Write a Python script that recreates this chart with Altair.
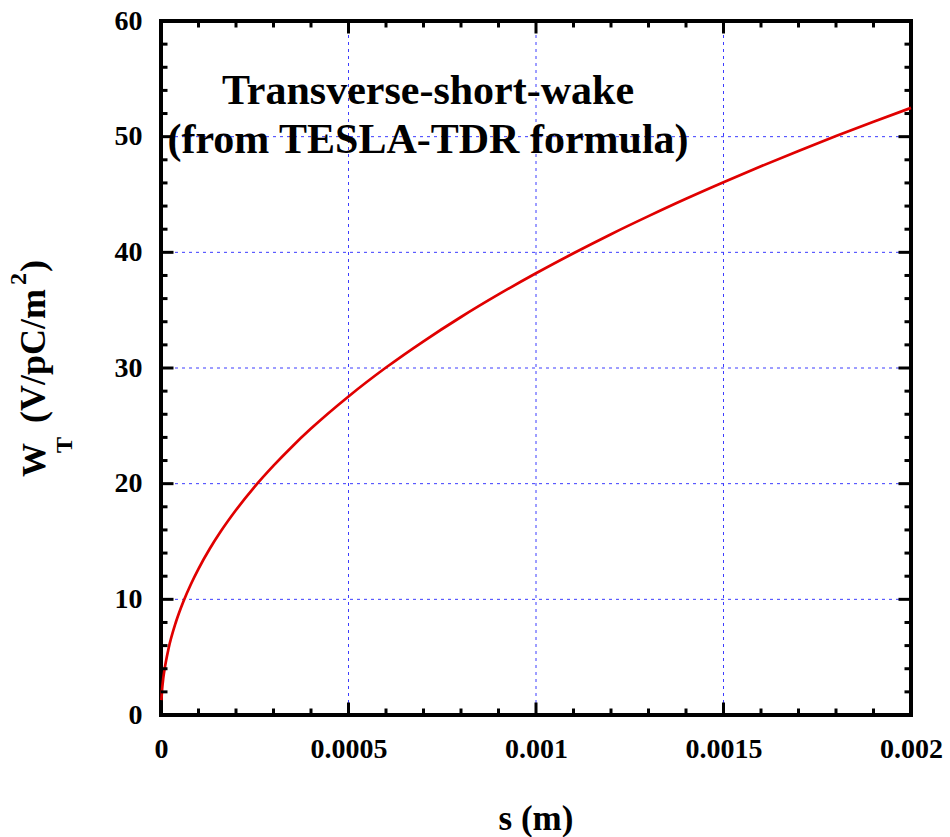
import altair as alt
import pandas as pd

# ---- data ----
s_m = [0.000001, 0.000003, 0.000006, 0.00001, 0.00002, 0.00004, 0.00006, 0.00008,
       0.0001, 0.00013, 0.00016, 0.0002, 0.00025, 0.0003, 0.00035, 0.0004,
       0.0005, 0.0006, 0.0007, 0.0008, 0.0009, 0.001, 0.0011, 0.0012, 0.0013,
       0.0014, 0.0015, 0.0016, 0.0017, 0.0018, 0.0019, 0.002]
w_t = [1.29, 2.23, 3.16, 4.05, 5.72, 8.06, 9.84, 11.33,
       12.64, 14.37, 15.90, 17.72, 19.75, 21.56, 23.22, 24.76,
       27.54, 30.04, 32.31, 34.41, 36.36, 38.19, 39.92, 41.57, 43.13,
       44.63, 46.06, 47.44, 48.77, 50.05, 51.29, 52.49]

x_major = [0, 0.0005, 0.001, 0.0015, 0.002]
x_minor = [0.0001, 0.0002, 0.0003, 0.0004, 0.0006, 0.0007, 0.0008, 0.0009,
           0.0011, 0.0012, 0.0013, 0.0014, 0.0016, 0.0017, 0.0018, 0.0019]
x_grid = [0.0005, 0.001, 0.0015]
y_major = [0, 10, 20, 30, 40, 50, 60]
y_minor = [2, 4, 6, 8, 12, 14, 16, 18, 22, 24, 26, 28, 32, 34, 36, 38,
           42, 44, 46, 48, 52, 54, 56, 58]
y_grid = [10, 20, 30, 40, 50]

title_lines = ["Transverse-short-wake", "(from TESLA-TDR formula)"]
x_title = "s (m)"

# ---- layout ----
W, H = 750, 694
FONT = "Liberation Serif"
MAJ, MIN = 12.5, 6.5

xs = alt.Scale(domain=[0, 0.002], nice=False, zero=False)
ys = alt.Scale(domain=[0, 60], nice=False, zero=False)

curve_df = pd.DataFrame({"s": s_m, "w": w_t})

def vals(v):
    return pd.DataFrame({"v": v})

x_axis = alt.Axis(values=x_major, format="~g", labelFlush=False, labelOverlap=False,
                  domain=False, ticks=False, grid=False, title=None,
                  labelPadding=42, labelBaseline="alphabetic", labelFontSize=28,
                  labelFont=FONT, labelFontWeight="bold", labelColor="black")
y_axis = alt.Axis(values=y_major, format="d", labelFlush=False, labelOverlap=False,
                  domain=False, ticks=False, grid=False, title=None,
                  labelPadding=19, labelBaseline="middle", labelFontSize=28,
                  labelFont=FONT, labelFontWeight="bold", labelColor="black")

def X(f):
    return alt.X(f, scale=xs, axis=x_axis)

def Y(f):
    return alt.Y(f, scale=ys, axis=y_axis)

grid_style = dict(color="#3c3cff", strokeWidth=1, strokeDash=[3, 4])

gx = alt.Chart(vals(x_grid)).mark_rule(**grid_style).encode(
    x=X("v:Q"), y=alt.value(0), y2=alt.value(H))
gy = alt.Chart(vals(y_grid)).mark_rule(**grid_style).encode(
    y=Y("v:Q"), x=alt.value(0), x2=alt.value(W))

curve = alt.Chart(curve_df).mark_line(color="#e00000", strokeWidth=2.7,
                                      interpolate="monotone").encode(
    x=X("s:Q"), y=Y("w:Q"))

tick_style = dict(color="black", strokeWidth=3)

def xticks(v, L):
    b = alt.Chart(vals(v)).mark_rule(**tick_style).encode(
        x=X("v:Q"), y=alt.value(H), y2=alt.value(H - L))
    t = alt.Chart(vals(v)).mark_rule(**tick_style).encode(
        x=X("v:Q"), y=alt.value(0), y2=alt.value(L))
    return [b, t]

def yticks(v, L):
    l = alt.Chart(vals(v)).mark_rule(**tick_style).encode(
        y=Y("v:Q"), x=alt.value(0), x2=alt.value(L))
    r = alt.Chart(vals(v)).mark_rule(**tick_style).encode(
        y=Y("v:Q"), x=alt.value(W), x2=alt.value(W - L))
    return [l, r]

ticks = xticks(x_major, MAJ) + xticks(x_minor, MIN) + yticks(y_major, MAJ) + yticks(y_minor, MIN)

def label(text, x, y, size, angle=0, align="center"):
    kw = dict(font=FONT, fontWeight="bold", fontSize=size, color="black",
              align=align, baseline="alphabetic")
    if angle:
        kw["angle"] = angle
    return alt.Chart(pd.DataFrame({"t": [text]})).mark_text(**kw).encode(
        text="t:N", x=alt.value(x), y=alt.value(y))

texts = [
    label(title_lines[0], 267, 83, 42),
    label(title_lines[1], 267, 132, 42),
    label(x_title, 375, 809, 35),
    # y-axis title W_T (V/pC/m^2), rotated
    label("W", -116, 439, 34, angle=270),
    label("T", -89, 424, 24, angle=270),
    label("(V/pC/m", -116, 335, 36, angle=270),
    label("2", -135, 258, 24, angle=270),
    label(")", -116, 245, 36, angle=270),
]

chart = alt.layer(gx, gy, curve, *ticks, *texts).properties(
    width=W, height=H,
    autosize=alt.AutoSizeParams(type="none"),
    padding={"left": 161, "top": 21, "right": 39, "bottom": 122},
    background="white",
).configure_view(stroke="black", strokeWidth=4)

chart.save("out.html", embed_options={"renderer": "svg", "actions": False})
